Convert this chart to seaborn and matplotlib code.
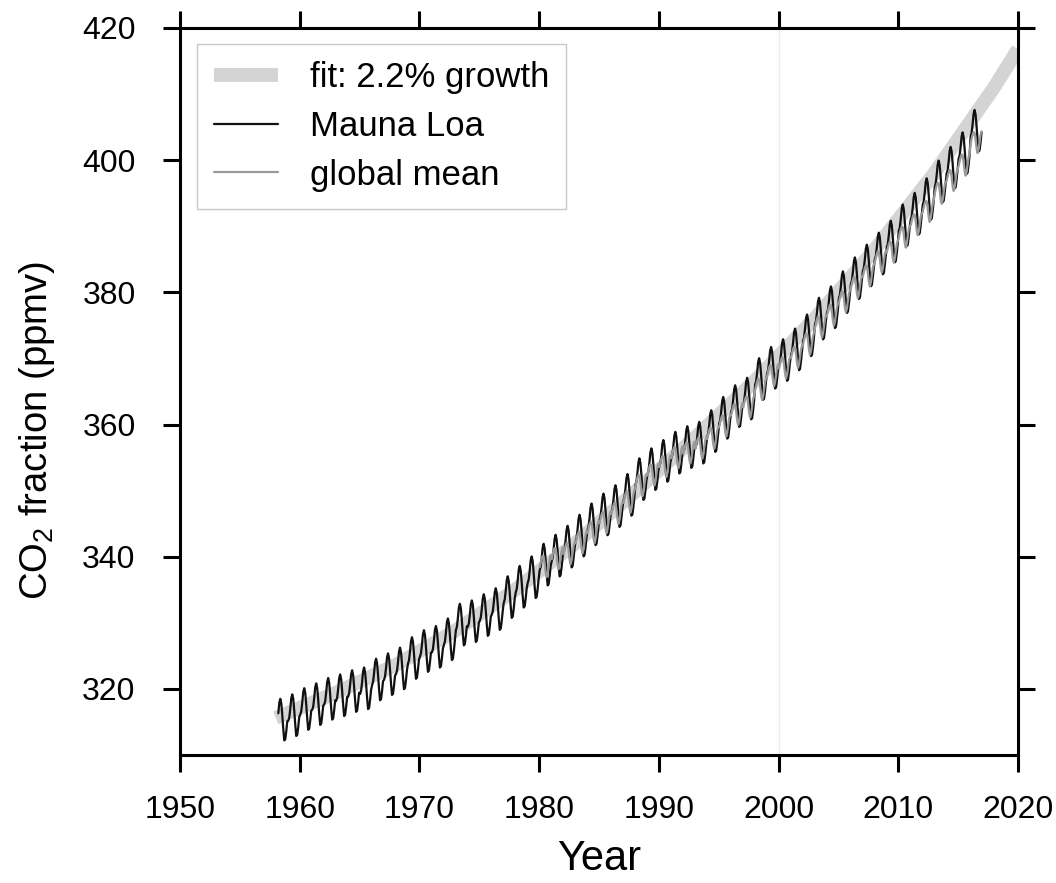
import numpy as np
import pandas as pd
import matplotlib
matplotlib.use("Agg")
import matplotlib.pyplot as plt
import seaborn as sns

ml_years = list(range(1958, 2017))
ml_annual = [315.3, 315.97, 316.91, 317.64, 318.45, 318.99, 319.62, 320.04, 321.37, 322.18,
             323.05, 324.62, 325.68, 326.32, 327.46, 329.68, 330.19, 331.12, 332.03, 333.84,
             335.41, 336.84, 338.76, 340.12, 341.48, 343.15, 344.85, 346.35, 347.61, 349.31,
             351.69, 353.20, 354.45, 355.70, 356.54, 357.21, 358.96, 360.97, 362.74, 363.88,
             366.84, 368.54, 369.71, 371.32, 373.45, 375.98, 377.70, 379.98, 382.09, 384.02,
             385.83, 387.64, 390.10, 391.85, 394.06, 396.74, 398.81, 401.01, 404.41]
ml_month_offset = [-0.8, -0.3, 1.0, 2.6, 3.2, 2.5, 0.7, -1.4, -3.1, -2.9, -1.7, -0.2]

gl_years = list(range(1980, 2017))
gl_annual = [338.91, 340.11, 340.86, 342.53, 344.07, 345.54, 346.97, 348.68, 351.16, 352.78,
             354.05, 355.39, 356.09, 356.83, 358.33, 360.17, 361.93, 363.05, 365.70, 367.80,
             368.96, 370.57, 372.58, 375.14, 376.95, 378.98, 381.15, 382.90, 385.02, 386.50,
             388.76, 390.63, 392.65, 395.40, 397.34, 399.65, 403.06]
gl_month_offset = [-0.5, 0.2, 0.8, 1.2, 1.1, 0.1, -1.3, -2.0, -1.4, -0.3, 0.8, 1.3]

fit_years = [1958, 1963, 1968, 1973, 1978, 1983, 1988, 1993, 1998, 2003, 2008, 2013, 2018, 2020]
fit_vals = [315.6, 319.4, 323.6, 328.8, 335.0, 342.0, 349.8, 358.0, 366.6, 376.0, 386.4, 398.0, 411.0, 416.8]

x_ticks = [1950, 1960, 1970, 1980, 1990, 2000, 2010, 2020]
y_ticks = [320, 340, 360, 380, 400, 420]


def monthly_table(years, annual, offsets, first_month=0):
    rows = []
    for y, a in zip(years, annual):
        for m, o in enumerate(offsets):
            if y == years[0] and m < first_month:
                continue
            rows.append((y + (m + 0.5) / 12.0, a + o))
    return pd.DataFrame(rows, columns=["year", "ppm"])


ml = monthly_table(ml_years, ml_annual, ml_month_offset, first_month=2)
gl = monthly_table(gl_years, gl_annual, gl_month_offset)
fit = pd.DataFrame({"year": fit_years, "ppm": fit_vals})

# ---- style ----
sns.set_style("white")
plt.rcParams["font.family"] = ["Liberation Sans", "DejaVu Sans"]
plt.rcParams["mathtext.fontset"] = "custom"
plt.rcParams["mathtext.rm"] = "Liberation Sans"
plt.rcParams["text.color"] = "black"
plt.rcParams["axes.labelcolor"] = "black"
plt.rcParams["xtick.color"] = "black"
plt.rcParams["ytick.color"] = "black"

fig = plt.figure(figsize=(10.56, 8.83), dpi=100)
ax = fig.add_axes([0.1705, 0.145, 0.7935, 0.8233])

ax.axvline(2000, color="#ececec", lw=1.0, zorder=0)

sns.lineplot(data=fit, x="year", y="ppm", ax=ax, color="#d4d4d4", lw=10,
             estimator=None, sort=False, solid_capstyle="butt", label="fit: 2.2% growth")
sns.lineplot(data=ml, x="year", y="ppm", ax=ax, color="#111111", lw=1.6,
             estimator=None, sort=False, label="Mauna Loa")
sns.lineplot(data=gl, x="year", y="ppm", ax=ax, color="#9a9a9a", lw=1.6,
             estimator=None, sort=False, label="global mean")

ax.set_xlim(1950, 2020)
ax.set_ylim(310, 420)
ax.set_xticks(x_ticks)
ax.set_yticks(y_ticks)
ax.tick_params(axis="both", which="both", direction="out", length=12, width=2.2,
               labelsize=23, top=True, right=True, bottom=True, left=True,
               labeltop=False, labelright=False, color="black", labelcolor="black")
ax.tick_params(axis="x", pad=17)
ax.tick_params(axis="y", pad=20)
for s in ax.spines.values():
    s.set_visible(True)
    s.set_linewidth(2.2)
    s.set_color("black")

ax.set_xlabel("Year", fontsize=30, labelpad=10)
ax.set_ylabel("CO$_2$ fraction (ppmv)", fontsize=27.5)
ax.yaxis.set_label_coords(-0.147, 0.446)

leg = ax.legend(loc="upper left", bbox_to_anchor=(0.02, 0.978), fontsize=25,
                frameon=True, fancybox=False, handlelength=1.85, handletextpad=0.9,
                borderpad=0.5, labelspacing=0.45, borderaxespad=0)
leg.get_frame().set_edgecolor("#bbbbbb")
leg.get_frame().set_linewidth(1.0)

fig.savefig("out.png", dpi=100)
